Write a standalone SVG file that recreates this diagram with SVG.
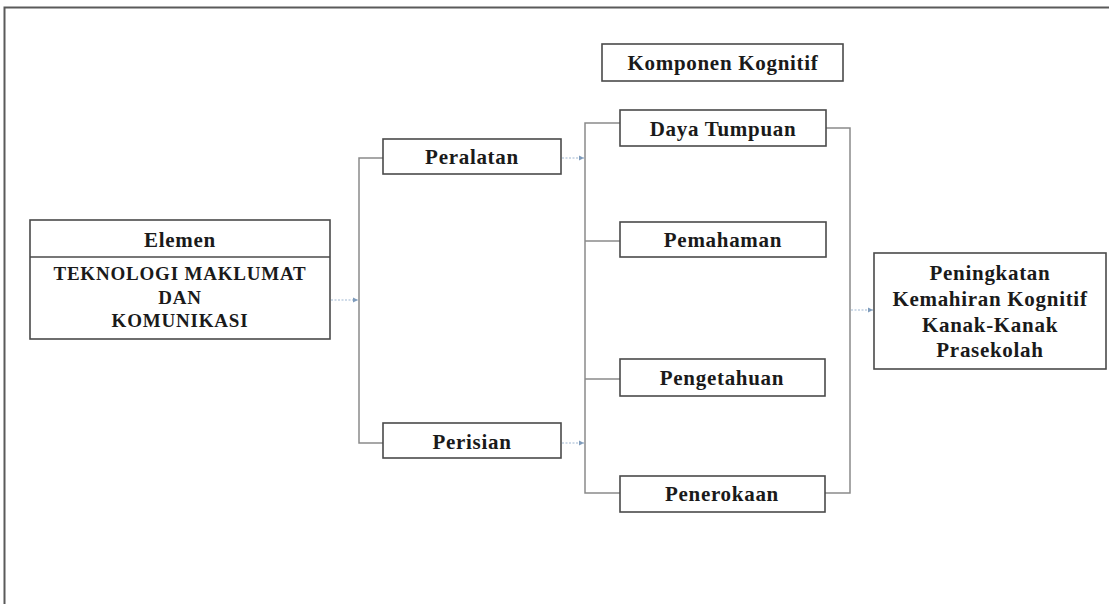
<svg xmlns="http://www.w3.org/2000/svg" width="1109" height="604" viewBox="0 0 1109 604">
<defs>
<marker id="ah" markerWidth="6" markerHeight="6" refX="5" refY="3" orient="auto" markerUnits="userSpaceOnUse">
<path d="M0,0.5 L5,3 L0,5.5 z" fill="#7f9cbc"/>
</marker>
<style>
.box{fill:#fff;stroke:#4a4a4a;stroke-width:1.6}
.t{font-family:"Liberation Serif","Times New Roman",serif;font-weight:bold;font-size:21px;letter-spacing:0.7px;fill:#1a1a1a;text-anchor:middle;dominant-baseline:central}
.tc{font-size:19px;letter-spacing:0.8px}
.br{fill:none;stroke:#8a8a8a;stroke-width:1.5}
.ar{fill:none;stroke:#9fb8d2;stroke-width:1.2;stroke-dasharray:2 1.5;marker-end:url(#ah)}
.frame{fill:none;stroke:#5a5a5a;stroke-width:2}
</style>
</defs>
<rect width="1109" height="604" fill="#fff"/>
<path class="frame" d="M4.5,604 L4.5,7.5 L1109,7.5"/>

<g id="connectors">
<path class="ar" d="M331,300 L358,300"/>
<path class="br" d="M383,158 L359,158 L359,443 L383,443"/>
<path class="ar" d="M562,158 L584,158"/>
<path class="ar" d="M562,443 L584,443"/>
<path class="br" d="M620,123 L585,123 L585,493 L620,493"/>
<path class="br" d="M585,241 L620,241"/>
<path class="br" d="M585,379 L620,379"/>
<path class="br" d="M826,128 L850,128 L850,493 L825,493"/>
<path class="ar" d="M851,310 L873,310"/>
</g>

<g id="elemen">
<rect class="box" x="30" y="220" width="300" height="119"/>
<line x1="30" y1="257" x2="330" y2="257" stroke="#4a4a4a" stroke-width="1.6"/>
<text class="t" x="180" y="240">Elemen</text>
<text class="t tc" x="180" y="273">TEKNOLOGI MAKLUMAT</text>
<text class="t tc" x="180" y="297">DAN</text>
<text class="t tc" x="180" y="320">KOMUNIKASI</text>
</g>

<g id="peralatan">
<rect class="box" x="383" y="139" width="178" height="35"/>
<text class="t" x="472" y="157">Peralatan</text>
</g>

<g id="perisian">
<rect class="box" x="383" y="423" width="178" height="35"/>
<text class="t" x="472" y="442">Perisian</text>
</g>

<g id="komponen">
<rect class="box" x="602" y="44" width="241" height="37"/>
<text class="t" x="723" y="63">Komponen Kognitif</text>
</g>

<g id="daya">
<rect class="box" x="620" y="110" width="206" height="36"/>
<text class="t" x="723" y="129">Daya Tumpuan</text>
</g>

<g id="pemahaman">
<rect class="box" x="620" y="222" width="206" height="35"/>
<text class="t" x="723" y="240">Pemahaman</text>
</g>

<g id="pengetahuan">
<rect class="box" x="620" y="359" width="205" height="37"/>
<text class="t" x="722" y="378">Pengetahuan</text>
</g>

<g id="penerokaan">
<rect class="box" x="620" y="476" width="205" height="36"/>
<text class="t" x="722" y="494">Penerokaan</text>
</g>

<g id="peningkatan">
<rect class="box" x="874" y="253" width="232" height="116"/>
<text class="t" x="990" y="273">Peningkatan</text>
<text class="t" x="990" y="299">Kemahiran Kognitif</text>
<text class="t" x="990" y="325">Kanak-Kanak</text>
<text class="t" x="990" y="350">Prasekolah</text>
</g>
</svg>
